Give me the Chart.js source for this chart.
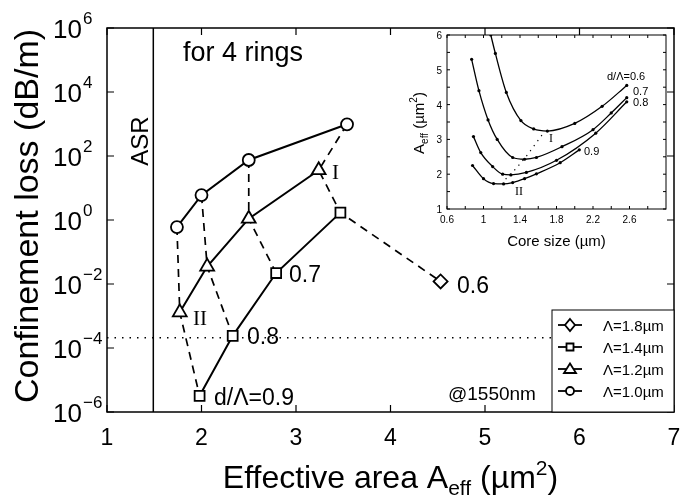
<!DOCTYPE html>
<html>
<head>
<meta charset="utf-8">
<script src="https://cdn.jsdelivr.net/npm/chart.js@4.4.1/dist/chart.umd.min.js"></script>
<style>
  body { margin: 0; background: #fff; }
  #wrap { position: relative; width: 691px; height: 500px; }
  canvas { position: absolute; left: 0; top: 0; }
</style>
</head>
<body>
<div id="wrap">
  <canvas id="mainChart" width="691" height="500"></canvas>
  <canvas id="insetChart" width="691" height="500"></canvas>
</div>
<script>
// main plot: effective area (um^2) against confinement loss (dB/m)
// each pitch series runs d/Lambda = 0.9, 0.8, 0.7, 0.6
var pitch10Area = [1.74, 2.00, 2.50, 3.54];
var pitch10Loss = [0.6, 6.0, 75, 980];
var pitch12Area = [1.77, 2.06, 2.50, 3.24];
var pitch12Loss = [1.3e-3, 0.035, 1.1, 36];
var pitch14Area = [1.98, 2.33, 2.79, 3.47];
var pitch14Loss = [3.2e-6, 2.4e-4, 0.022, 1.7];
var pitch18Area = [4.53];
var pitch18Loss = [0.012];
var pitchLabels = ['\u039b=1.8\u00b5m', '\u039b=1.4\u00b5m', '\u039b=1.2\u00b5m', '\u039b=1.0\u00b5m'];
var asrArea = 1.49;
var lossLimit = 2.1e-4;
var xTicks = [1, 2, 3, 4, 5, 6, 7];
var yTickExps = [-6, -4, -2, 0, 2, 4, 6];

// inset: core size (um) against effective area (um^2), one curve per d/Lambda
var core06 = [1.08, 1.13, 1.25, 1.41, 1.55, 1.70, 2.00, 2.30, 2.57];
var aeff06 = [6.00, 5.47, 4.35, 3.54, 3.30, 3.24, 3.46, 3.95, 4.55];
var core07 = [0.87, 0.95, 1.05, 1.15, 1.32, 1.45, 1.58, 1.86, 2.20, 2.40, 2.57];
var aeff07 = [5.30, 4.40, 3.56, 3.00, 2.48, 2.43, 2.48, 2.79, 3.28, 3.76, 4.20];
var core08 = [0.89, 0.97, 1.10, 1.21, 1.30, 1.47, 1.80, 2.23, 2.57];
var aeff08 = [3.08, 2.62, 2.22, 2.00, 1.98, 2.05, 2.40, 3.18, 4.08];
var core09 = [0.88, 1.00, 1.11, 1.22, 1.32, 1.45, 1.58, 1.84, 2.05];
var aeff09 = [2.25, 1.87, 1.73, 1.72, 1.76, 1.87, 2.01, 2.33, 2.70];
var minCore = [1.64, 1.48, 1.36, 1.22];
var minAeff = [3.12, 2.55, 2.17, 1.80];
var insetXTicks = [0.6, 1, 1.4, 1.8, 2.2, 2.6];
var insetYTicks = [1, 2, 3, 4, 5, 6];

var SANS = '"Liberation Sans", Arial, Helvetica, sans-serif';
var SERIF = '"Liberation Serif", "Times New Roman", serif';

function pts(xs, ys) {
    return xs.map(function (x, i) { return { x: x, y: ys[i] }; });
}

// lines of equal d/Lambda join the k-th point of every pitch series
function ratioLine(k) {
    var line = [
        { x: pitch10Area[k], y: pitch10Loss[k] },
        { x: pitch12Area[k], y: pitch12Loss[k] },
        { x: pitch14Area[k], y: pitch14Loss[k] }
    ];
    if (k === 3) line.push({ x: pitch18Area[0], y: pitch18Loss[0] });
    return line;
}

// draws text made of pieces [text, size, dy], e.g. sub/superscripts
function richText(ctx, parts, x, y, align, rot) {
    ctx.save();
    ctx.translate(x, y);
    if (rot) ctx.rotate(rot);
    var total = 0;
    parts.forEach(function (p) {
        ctx.font = p[1] + 'px ' + SANS;
        total += ctx.measureText(p[0]).width;
    });
    var cx = align === 'center' ? -total / 2 : (align === 'right' ? -total : 0);
    ctx.textAlign = 'left';
    ctx.textBaseline = 'alphabetic';
    ctx.fillStyle = '#000';
    parts.forEach(function (p) {
        ctx.font = p[1] + 'px ' + SANS;
        ctx.fillText(p[0], cx, p[2] || 0);
        cx += ctx.measureText(p[0]).width;
    });
    ctx.restore();
}

function label(ctx, text, x, y, size, font) {
    ctx.font = size + 'px ' + (font || SANS);
    ctx.textAlign = 'left';
    ctx.textBaseline = 'alphabetic';
    ctx.fillStyle = '#000';
    ctx.fillText(text, x, y);
}

function legendMarker(ctx, style, x, y) {
    ctx.beginPath();
    if (style === 'circle') {
        ctx.arc(x, y, 4, 0, Math.PI * 2);
    } else if (style === 'rect') {
        ctx.rect(x - 3.5, y - 3.5, 7, 7);
    } else if (style === 'triangle') {
        ctx.moveTo(x, y - 5.5);
        ctx.lineTo(x + 6, y + 4);
        ctx.lineTo(x - 6, y + 4);
        ctx.closePath();
    } else {
        ctx.moveTo(x, y - 6);
        ctx.lineTo(x + 5, y);
        ctx.lineTo(x, y + 6);
        ctx.lineTo(x - 5, y);
        ctx.closePath();
    }
    ctx.fillStyle = '#fff';
    ctx.fill();
    ctx.stroke();
}

var mainDecor = {
    id: 'mainDecor',
    afterDraw: function (chart) {
        var ctx = chart.ctx;
        var a = chart.chartArea;
        var xs = chart.scales.x, ys = chart.scales.y;
        ctx.save();
        ctx.strokeStyle = '#000';
        ctx.lineWidth = 1.5;
        ctx.strokeRect(a.left, a.top, a.right - a.left, a.bottom - a.top);

        // inward ticks on all four sides
        ctx.lineWidth = 1.2;
        ctx.beginPath();
        xTicks.forEach(function (v) {
            var px = xs.getPixelForValue(v);
            ctx.moveTo(px, a.bottom); ctx.lineTo(px, a.bottom - 7);
            ctx.moveTo(px, a.top); ctx.lineTo(px, a.top + 7);
        });
        yTickExps.forEach(function (e) {
            var py = ys.getPixelForValue(Math.pow(10, e));
            ctx.moveTo(a.left, py); ctx.lineTo(a.left + 7, py);
            ctx.moveTo(a.right, py); ctx.lineTo(a.right - 7, py);
        });
        ctx.stroke();

        // tick labels
        ctx.fillStyle = '#000';
        ctx.font = '23px ' + SANS;
        ctx.textAlign = 'center';
        ctx.textBaseline = 'alphabetic';
        xTicks.forEach(function (v) {
            ctx.fillText(String(v), xs.getPixelForValue(v), 445);
        });
        yTickExps.forEach(function (e) {
            var py = ys.getPixelForValue(Math.pow(10, e));
            ctx.font = '26px ' + SANS;
            ctx.textAlign = 'right';
            ctx.fillText('10', 82, py + 10);
            ctx.font = '17px ' + SANS;
            ctx.textAlign = 'left';
            ctx.fillText(e < 0 ? '\u2212' + (-e) : String(e), 83, py - 4);
        });

        // axis titles
        richText(ctx, [['Effective area A', 32], ['eff', 21, 7], [' (\u00b5m', 32], ['2', 21, -13], [')', 32]],
            (a.left + a.right) / 2, 488, 'center');
        richText(ctx, [['Confinement loss (dB/m)', 34]], 38, 216, 'center', -Math.PI / 2);
        richText(ctx, [['ASR', 24]], 148, 141, 'center', -Math.PI / 2);

        // annotations
        label(ctx, 'for 4 rings', 183, 61, 27);
        label(ctx, 'I', 332, 179, 21, SERIF);
        label(ctx, 'II', 193, 325, 21, SERIF);
        label(ctx, '0.7', 289, 282, 23);
        label(ctx, '0.8', 247, 344, 23);
        label(ctx, 'd/\u039b=0.9', 214, 405, 23);
        label(ctx, '0.6', 457, 293, 23);
        label(ctx, '@1550nm', 448, 400, 19);

        // legend box in the lower right corner
        var lx = 552, ly = 310;
        ctx.fillStyle = '#fff';
        ctx.fillRect(lx, ly, a.right - lx, a.bottom - ly);
        ctx.strokeStyle = '#000';
        ctx.lineWidth = 1;
        ctx.strokeRect(lx, ly, a.right - lx, a.bottom - ly);
        var styles = ['rectRot', 'rect', 'triangle', 'circle'];
        pitchLabels.forEach(function (t, i) {
            var ry = 325 + i * 22;
            ctx.lineWidth = 1.8;
            ctx.beginPath();
            ctx.moveTo(558, ry); ctx.lineTo(582, ry);
            ctx.stroke();
            legendMarker(ctx, styles[i], 570, ry);
            label(ctx, t, 603, ry + 5.5, 15);
        });
        ctx.restore();
    }
};

var insetDecor = {
    id: 'insetDecor',
    beforeDatasetsDraw: function (chart) {
        var ctx = chart.ctx;
        var a = chart.chartArea;
        ctx.save();
        ctx.fillStyle = '#fff';
        ctx.fillRect(a.left, a.top, a.right - a.left, a.bottom - a.top);
        ctx.restore();
    },
    afterDraw: function (chart) {
        var ctx = chart.ctx;
        var a = chart.chartArea;
        var xs = chart.scales.x, ys = chart.scales.y;
        ctx.save();
        ctx.strokeStyle = '#000';
        ctx.lineWidth = 1;
        ctx.strokeRect(a.left, a.top, a.right - a.left, a.bottom - a.top);
        ctx.beginPath();
        for (var v = 0.6; v < 3.0; v += 0.2) {
            var px = xs.getPixelForValue(v);
            ctx.moveTo(px, a.bottom); ctx.lineTo(px, a.bottom - 3);
            ctx.moveTo(px, a.top); ctx.lineTo(px, a.top + 3);
        }
        for (var w = 1; w <= 6; w += 0.5) {
            var py = ys.getPixelForValue(w);
            ctx.moveTo(a.left, py); ctx.lineTo(a.left + 3, py);
            ctx.moveTo(a.right, py); ctx.lineTo(a.right - 3, py);
        }
        ctx.stroke();

        ctx.fillStyle = '#000';
        ctx.font = '10px ' + SANS;
        ctx.textAlign = 'center';
        insetXTicks.forEach(function (t) {
            ctx.fillText(String(t), xs.getPixelForValue(t), a.bottom + 14);
        });
        ctx.textAlign = 'right';
        insetYTicks.forEach(function (t) {
            ctx.fillText(String(t), a.left - 5, ys.getPixelForValue(t) + 4);
        });

        richText(ctx, [['Core size (\u00b5m)', 15]], (a.left + a.right) / 2, 246, 'center');
        richText(ctx, [['A', 15], ['eff', 10, 4], [' (\u00b5m', 15], ['2', 10, -7], [')', 15]], 424, 123, 'center', -Math.PI / 2);

        label(ctx, 'd/\u039b=0.6', 607, 80, 11);
        label(ctx, '0.7', 633, 95, 11);
        label(ctx, '0.8', 633, 106, 11);
        label(ctx, '0.9', 584, 155, 11);
        label(ctx, 'I', 549, 142, 12, SERIF);
        label(ctx, 'II', 515, 195, 12, SERIF);
        ctx.restore();
    }
};

var markerLine = {
    showLine: true,
    borderColor: '#000',
    borderWidth: 2,
    pointBackgroundColor: '#fff',
    pointBorderColor: '#000',
    pointBorderWidth: 1.8,
    order: 0
};
var dashLine = {
    showLine: true,
    borderColor: '#000',
    borderWidth: 1.7,
    borderDash: [8, 6],
    pointRadius: 0,
    order: 1
};

var mainChart = new Chart(document.getElementById('mainChart').getContext('2d'), {
    type: 'scatter',
    data: {
        datasets: [
            Object.assign({ label: pitchLabels[3], data: pts(pitch10Area, pitch10Loss), pointStyle: 'circle', pointRadius: 6 }, markerLine),
            Object.assign({ label: pitchLabels[2], data: pts(pitch12Area, pitch12Loss), pointStyle: 'triangle', pointRadius: 8 }, markerLine),
            Object.assign({ label: pitchLabels[1], data: pts(pitch14Area, pitch14Loss), pointStyle: 'rect', pointRadius: 7 }, markerLine),
            Object.assign({}, markerLine, { label: pitchLabels[0], data: pts(pitch18Area, pitch18Loss), pointStyle: 'rectRot', pointRadius: 7, showLine: false }),
            Object.assign({ label: 'd/L 0.9', data: ratioLine(0) }, dashLine),
            Object.assign({ label: 'd/L 0.8', data: ratioLine(1) }, dashLine),
            Object.assign({ label: 'd/L 0.7', data: ratioLine(2) }, dashLine),
            Object.assign({ label: 'd/L 0.6', data: ratioLine(3) }, dashLine),
            {
                label: 'ASR', data: [{ x: asrArea, y: 1e-6 }, { x: asrArea, y: 1e6 }],
                showLine: true, borderColor: '#000', borderWidth: 1.5, pointRadius: 0, order: 2
            },
            {
                label: 'limit', data: [{ x: 1, y: lossLimit }, { x: 7, y: lossLimit }],
                showLine: true, borderColor: '#000', borderWidth: 1.5, borderDash: [1.5, 6],
                pointRadius: 0, order: 2
            }
        ]
    },
    options: {
        responsive: false,
        animation: false,
        devicePixelRatio: 1,
        layout: { padding: { left: 107, top: 28, right: 17, bottom: 88 } },
        plugins: { legend: { display: false }, tooltip: { enabled: false } },
        scales: {
            x: { type: 'linear', min: 1, max: 7, display: false },
            y: { type: 'logarithmic', min: 1e-6, max: 1e6, display: false }
        }
    },
    plugins: [mainDecor]
});

var curve = {
    showLine: true,
    borderColor: '#000',
    borderWidth: 1.3,
    pointRadius: 1.6,
    pointBackgroundColor: '#000',
    pointBorderWidth: 0,
    cubicInterpolationMode: 'monotone'
};

var insetChart = new Chart(document.getElementById('insetChart').getContext('2d'), {
    type: 'scatter',
    data: {
        datasets: [
            Object.assign({ label: '0.6', data: pts(core06, aeff06) }, curve),
            Object.assign({ label: '0.7', data: pts(core07, aeff07) }, curve),
            Object.assign({ label: '0.8', data: pts(core08, aeff08) }, curve),
            Object.assign({ label: '0.9', data: pts(core09, aeff09) }, curve),
            {
                label: 'minima', data: pts(minCore, minAeff), showLine: true,
                borderColor: '#000', borderWidth: 1.2, borderDash: [1.2, 5], pointRadius: 0
            }
        ]
    },
    options: {
        responsive: false,
        animation: false,
        devicePixelRatio: 1,
        layout: { padding: { left: 447, top: 35, right: 25, bottom: 291 } },
        plugins: { legend: { display: false }, tooltip: { enabled: false } },
        scales: {
            x: { type: 'linear', min: 0.6, max: 3.0, display: false },
            y: { type: 'linear', min: 1, max: 6, display: false }
        }
    },
    plugins: [insetDecor]
});
</script>
</body>
</html>
